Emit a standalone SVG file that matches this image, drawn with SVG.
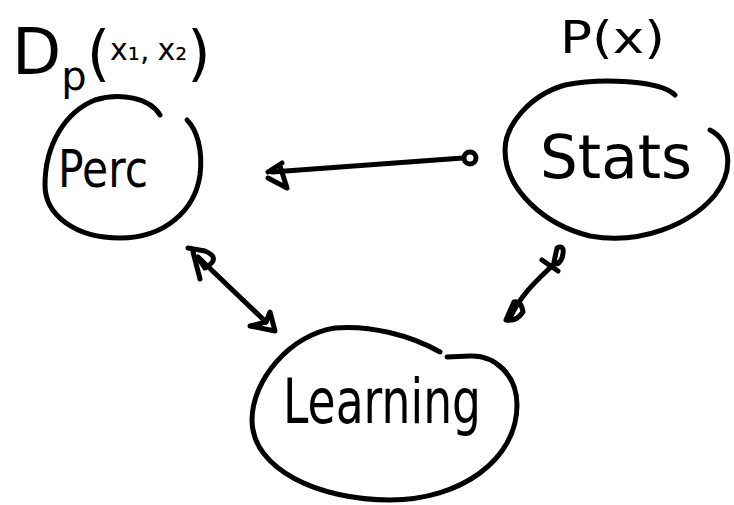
<svg xmlns="http://www.w3.org/2000/svg" width="734" height="505" viewBox="0 0 734 505">
  <style>
    .ink { fill: none; stroke: #000; stroke-width: 5; stroke-linecap: round; stroke-linejoin: round; }
    .hand { font-family: "DejaVu Sans", "Liberation Sans", sans-serif; fill: #000; }
  </style>
  <rect width="734" height="505" fill="#fff"/>

  <!-- Perception node -->
  <g id="perc">
    <text class="hand" x="12" y="74" font-size="64">D<tspan font-size="40" dy="16">p</tspan><tspan dy="-16" font-size="60">(</tspan><tspan font-size="30" dy="-14">x</tspan><tspan font-size="30">₁,</tspan><tspan font-size="30" dx="8">x₂</tspan><tspan font-size="60" dy="14">)</tspan></text>
    <path class="ink" d="M160,115 C150,98 120,92 95,100 C65,112 45,145 45,185 C45,215 75,238 120,238 C165,238 195,210 200,175 C203,150 197,130 187,120"/>
    <text class="hand" x="58" y="187" font-size="52" textLength="90" lengthAdjust="spacingAndGlyphs">Perc</text>
  </g>

  <!-- Statistics node -->
  <g id="stats">
    <text class="hand" x="560" y="53" font-size="44" textLength="105" lengthAdjust="spacingAndGlyphs">P(x)</text>
    <path class="ink" d="M675,95 C660,80 600,78 565,85 C530,95 505,125 505,150 C505,190 545,225 590,236 C640,245 690,225 715,195 C735,170 730,140 710,130"/>
    <text class="hand" x="540" y="178" font-size="60" textLength="152" lengthAdjust="spacingAndGlyphs">Stats</text>
  </g>

  <!-- Learning node -->
  <g id="learning">
    <path class="ink" d="M440,352 C410,335 370,325 335,328 C290,335 252,380 252,420 C252,470 320,500 390,500 C460,500 517,460 517,405 C517,375 495,355 470,356 L447,357"/>
    <text class="hand" x="283" y="423" font-size="62" textLength="198" lengthAdjust="spacingAndGlyphs">Learning</text>
  </g>

  <!-- Connectors -->
  <g id="connectors">
    <!-- Stats to Perc -->
    <line class="ink" x1="463" y1="158" x2="272" y2="172"/>
    <circle class="ink" cx="470" cy="158" r="6"/>
    <path class="ink" d="M282,163 L268,172 M280,166 L287,188 L268,178"/>
    <!-- Perc to Learning -->
    <line class="ink" x1="198" y1="257" x2="266" y2="322"/>
    <path class="ink" d="M188,248 L205,251 Q222,258 205,268 L199,259 M193,252 L200,279"/>
    <path class="ink" d="M250,326 L266,322 L270,312 L275,331 Z"/>
    <!-- Stats to Learning -->
    <path class="ink" d="M556,262 C540,278 522,292 510,318"/>
    <path class="ink" d="M557,248 Q566,244 562,258 Q558,267 554,262 Z M542,260 L558,271"/>
    <path class="ink" d="M514,302 L506,320 Q516,322 523,312 Q521,300 514,302"/>
  </g>
</svg>
